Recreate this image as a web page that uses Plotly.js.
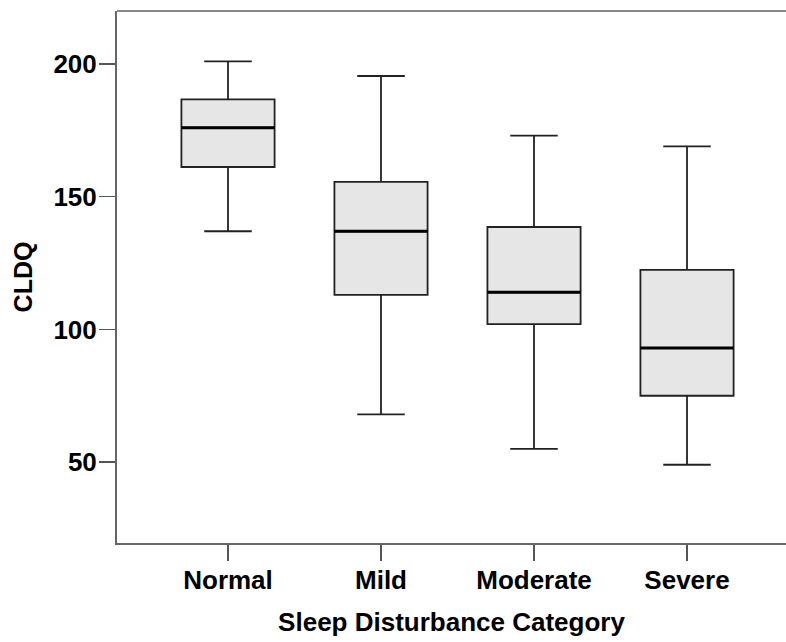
<!DOCTYPE html>
<html>
<head>
<meta charset="utf-8">
<script src="https://cdn.plot.ly/plotly-3.0.1.min.js"></script>
<style>html,body{margin:0;padding:0;background:#fff;}</style>
</head>
<body>
<div id="chart" style="width:786px;height:642px;"></div>
<script>
const categories = ["Normal", "Mild", "Moderate", "Severe"];
const lowerWhisker = [137, 68, 55, 49];
const q1Values = [161.2, 113, 102, 75];
const medianValues = [176, 137, 114, 93];
const q3Values = [186.7, 155.6, 138.6, 122.4];
const upperWhisker = [201, 195.5, 173, 169];
const yTickValues = [50, 100, 150, 200];

const boxTrace = {
  type: "box",
  x: categories,
  q1: q1Values,
  median: medianValues,
  q3: q3Values,
  lowerfence: lowerWhisker,
  upperfence: upperWhisker,
  fillcolor: "#e6e6e6",
  line: { color: "#222", width: 1.8 },
  whiskerwidth: 0.51,
  boxpoints: false,
  hoverinfo: "skip",
  showlegend: false
};

const medianTrace = {
  type: "box",
  x: categories,
  q1: medianValues,
  median: medianValues,
  q3: medianValues,
  lowerfence: medianValues,
  upperfence: medianValues,
  fillcolor: "rgba(0,0,0,0)",
  line: { color: "#000", width: 3.2 },
  whiskerwidth: 0,
  boxpoints: false,
  hoverinfo: "skip",
  showlegend: false
};

const font = "'Liberation Sans', Arial, sans-serif";

const layout = {
  width: 786,
  height: 642,
  margin: { l: 117, r: 0, t: 11, b: 99 },
  paper_bgcolor: "#fff",
  plot_bgcolor: "#fff",
  boxmode: "overlay",
  boxgap: 0.13,
  showlegend: false,
  font: { family: font, color: "#000" },
  shapes: [
    { type: "line", xref: "paper", yref: "paper", x0: 0, x1: 1, y0: 1, y1: 1,
      line: { color: "#888", width: 2 } }
  ],
  xaxis: {
    type: "category",
    range: [-0.7255, 3.647],
    showgrid: false,
    zeroline: false,
    showline: true,
    linecolor: "#666",
    linewidth: 2,
    mirror: false,
    ticks: "outside",
    ticklen: 16,
    tickwidth: 1.5,
    tickcolor: "#555",
    ticklabelstandoff: -3,
    tickfont: { family: font, size: 26, color: "#000", weight: "bold" },
    title: { text: "<b>Sleep Disturbance Category</b>", font: { family: font, size: 26, color: "#000" }, standoff: 19 }
  },
  yaxis: {
    range: [19.5, 220],
    tickvals: yTickValues,
    showgrid: false,
    zeroline: false,
    showline: true,
    mirror: false,
    linecolor: "#666",
    linewidth: 2,
    ticks: "outside",
    ticklen: 16,
    tickwidth: 1.5,
    tickcolor: "#555",
    ticklabelstandoff: -3,
    tickfont: { family: font, size: 26, color: "#000", weight: "bold" },
    title: { text: "<b>CLDQ</b>", font: { family: font, size: 25, color: "#000" }, standoff: 14 }
  }
};

Plotly.newPlot("chart", [boxTrace, medianTrace], layout, { staticPlot: true, displayModeBar: false });
</script>
</body>
</html>
